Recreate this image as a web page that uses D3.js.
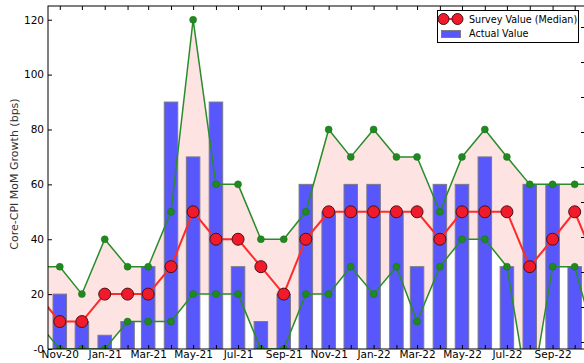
<!DOCTYPE html>
<html>
<head>
<meta charset="utf-8">
<script src="https://cdn.jsdelivr.net/npm/d3@7"></script>
<style>
  body { margin: 0; background: #fff; }
  svg { display: block; font-family: "DejaVu Sans", sans-serif; }
</style>
</head>
<body>
<svg id="chart" width="584" height="363"></svg>
<script>
// Monthly data (bps)
const months = ["Oct-20","Nov-20","Dec-20","Jan-21","Feb-21","Mar-21","Apr-21","May-21","Jun-21","Jul-21","Aug-21","Sep-21",
  "Oct-21","Nov-21","Dec-21","Jan-22","Feb-22","Mar-22","Apr-22","May-22","Jun-22","Jul-22","Aug-22","Sep-22","Oct-22","Nov-22"];
const actual = [null,20,10,5,10,30,90,70,90,30,10,20,60,50,60,60,50,30,60,60,70,30,60,60,30,null];
const median = [20,10,10,20,20,20,30,50,40,40,30,20,40,50,50,50,50,50,40,50,50,50,30,40,50,30];
const upper = [30,30,20,40,30,30,50,120,60,60,40,40,50,80,70,80,70,70,50,70,80,70,60,60,60,60];
const lower = [10,0,0,0,10,10,10,20,20,20,0,0,20,20,30,20,30,10,30,40,40,30,-20,30,30,0];
const yTicks = [0,20,40,60,80,100,120];

const parse = d3.timeParse("%b-%y");
const rows = months.map((m, i) => ({
  date: parse(m), actual: actual[i], median: median[i], upper: upper[i], lower: lower[i]
}));

const svg = d3.select("#chart");
const m = { left: 48, right: 585, top: 6, bottom: 349 };

let x = d3.scaleTime()
  .domain([new Date(2020, 9, 16), new Date(2022, 9, 15)])
  .range([m.left, m.right]);

let y = d3.scaleLinear()
  .domain([0, 125])
  .range([m.bottom, m.top]);

// secondary scale only used for the tick marks on the right spine
let y2 = d3.scaleLinear()
  .domain([-0.2, 9.6])
  .range([m.bottom, m.top]);

svg.append("defs").append("clipPath").attr("id", "plot")
  .append("rect").attr("x", m.left).attr("y", m.top).attr("width", m.right - m.left).attr("height", m.bottom - m.top);

let g = svg.append("g").attr("clip-path", "url(#plot)");

// band between the low and high survey answers
g.append("path")
  .datum(rows)
  .attr("d", d3.area().x(d => x(d.date)).y0(d => y(d.lower)).y1(d => y(d.upper)))
  .style("fill", "#fde3e1");

// bars
const barW = 13.5;
g.selectAll("rect.bar")
  .data(rows.filter(d => d.actual != null))
  .join("rect").attr("class", "bar")
  .attr("x", d => x(d.date) - barW / 2)
  .attr("y", d => y(d.actual))
  .attr("width", barW)
  .attr("height", d => y(0) - y(d.actual))
  .style("fill", "#5757fb")
  .style("stroke", "#7a7a8a")
  .style("stroke-width", 1);

// high / low lines
for (const key of ["upper", "lower"]) {
  g.append("path")
    .datum(rows)
    .attr("d", d3.line().x(d => x(d.date)).y(d => y(d[key])))
    .style("fill", "none")
    .style("stroke", "#2a8c2a")
    .style("stroke-width", 1.5);

  g.selectAll("circle." + key)
    .data(rows)
    .join("circle").attr("class", key)
    .attr("cx", d => x(d.date))
    .attr("cy", d => y(d[key]))
    .attr("r", 3.5)
    .style("fill", "#1f8a1f")
    .style("stroke", "#1a6e1a")
    .style("stroke-width", 0.5);
}

// median line
g.append("path")
  .datum(rows)
  .attr("d", d3.line().x(d => x(d.date)).y(d => y(d.median)))
  .style("fill", "none")
  .style("stroke", "#ff2b2b")
  .style("stroke-width", 2);

g.selectAll("circle.med")
  .data(rows)
  .join("circle").attr("class", "med")
  .attr("cx", d => x(d.date))
  .attr("cy", d => y(d.median))
  .attr("r", 6)
  .style("fill", "#f01a2a")
  .style("stroke", "#4b1016")
  .style("stroke-width", 1);

// Axes
const monthTicks = rows.map(d => d.date).filter(d => d >= x.domain()[0] && d <= x.domain()[1]);
const fmt = d3.timeFormat("%b-%y");

svg.append("g")
  .attr("transform", `translate(0,${m.bottom})`)
  .call(d3.axisBottom(x).tickValues(monthTicks)
    .tickFormat(d => (d.getMonth() % 2 === 0 ? fmt(d) : ""))
    .tickSizeInner(-4).tickSizeOuter(0).tickPadding(2));

svg.append("g")
  .attr("transform", `translate(0,${m.top})`)
  .call(d3.axisTop(x).tickValues(monthTicks).tickFormat("").tickSizeInner(-4).tickSizeOuter(0));

svg.append("g")
  .attr("transform", `translate(${m.left},0)`)
  .call(d3.axisLeft(y).tickValues(yTicks)
    .tickFormat(d => (d === 0 ? "-0" : d))
    .tickSizeInner(-4).tickSizeOuter(0).tickPadding(4));

svg.append("g")
  .attr("transform", `translate(${m.right},0)`)
  .call(d3.axisRight(y2).tickValues(d3.range(0, 10)).tickFormat("").tickSizeInner(-4).tickSizeOuter(0));

svg.selectAll(".domain").remove();
svg.selectAll(".tick line").style("stroke", "#000");
svg.selectAll(".tick text").style("font-family", "DejaVu Sans").style("font-size", "10.5px").style("fill", "#000");

// plot frame
svg.append("rect")
  .attr("x", m.left).attr("y", m.top)
  .attr("width", m.right - m.left).attr("height", m.bottom - m.top)
  .style("fill", "none").style("stroke", "#000").style("stroke-width", 1);

// y label
svg.append("text")
  .attr("transform", "translate(18,174) rotate(-90)")
  .attr("text-anchor", "middle")
  .style("font-size", "11px")
  .style("fill", "#333")
  .text("Core-CPI MoM Growth (bps)");

// Legend
let lg = svg.append("g");
lg.append("rect")
  .attr("x", 437.5).attr("y", 10.5).attr("width", 141).attr("height", 32)
  .style("fill", "#fff").style("stroke", "#000").style("stroke-width", 1);
lg.append("line")
  .attr("x1", 443).attr("x2", 458).attr("y1", 19).attr("y2", 19)
  .style("stroke", "#ff2b2b").style("stroke-width", 2);
lg.selectAll("circle")
  .data([443.5, 457.5])
  .join("circle")
  .attr("cx", d => d).attr("cy", 19).attr("r", 5.5)
  .style("fill", "#f01a2a").style("stroke", "#4b1016").style("stroke-width", 1);
lg.append("rect")
  .attr("x", 441.5).attr("y", 30.5).attr("width", 19).attr("height", 7)
  .style("fill", "#5757fb").style("stroke", "#7a7a8a");
lg.append("text").attr("x", 469).attr("y", 22.5).style("font-size", "9.6px").text("Survey Value (Median)");
lg.append("text").attr("x", 469).attr("y", 36.5).style("font-size", "9.6px").text("Actual Value");
</script>
</body>
</html>
